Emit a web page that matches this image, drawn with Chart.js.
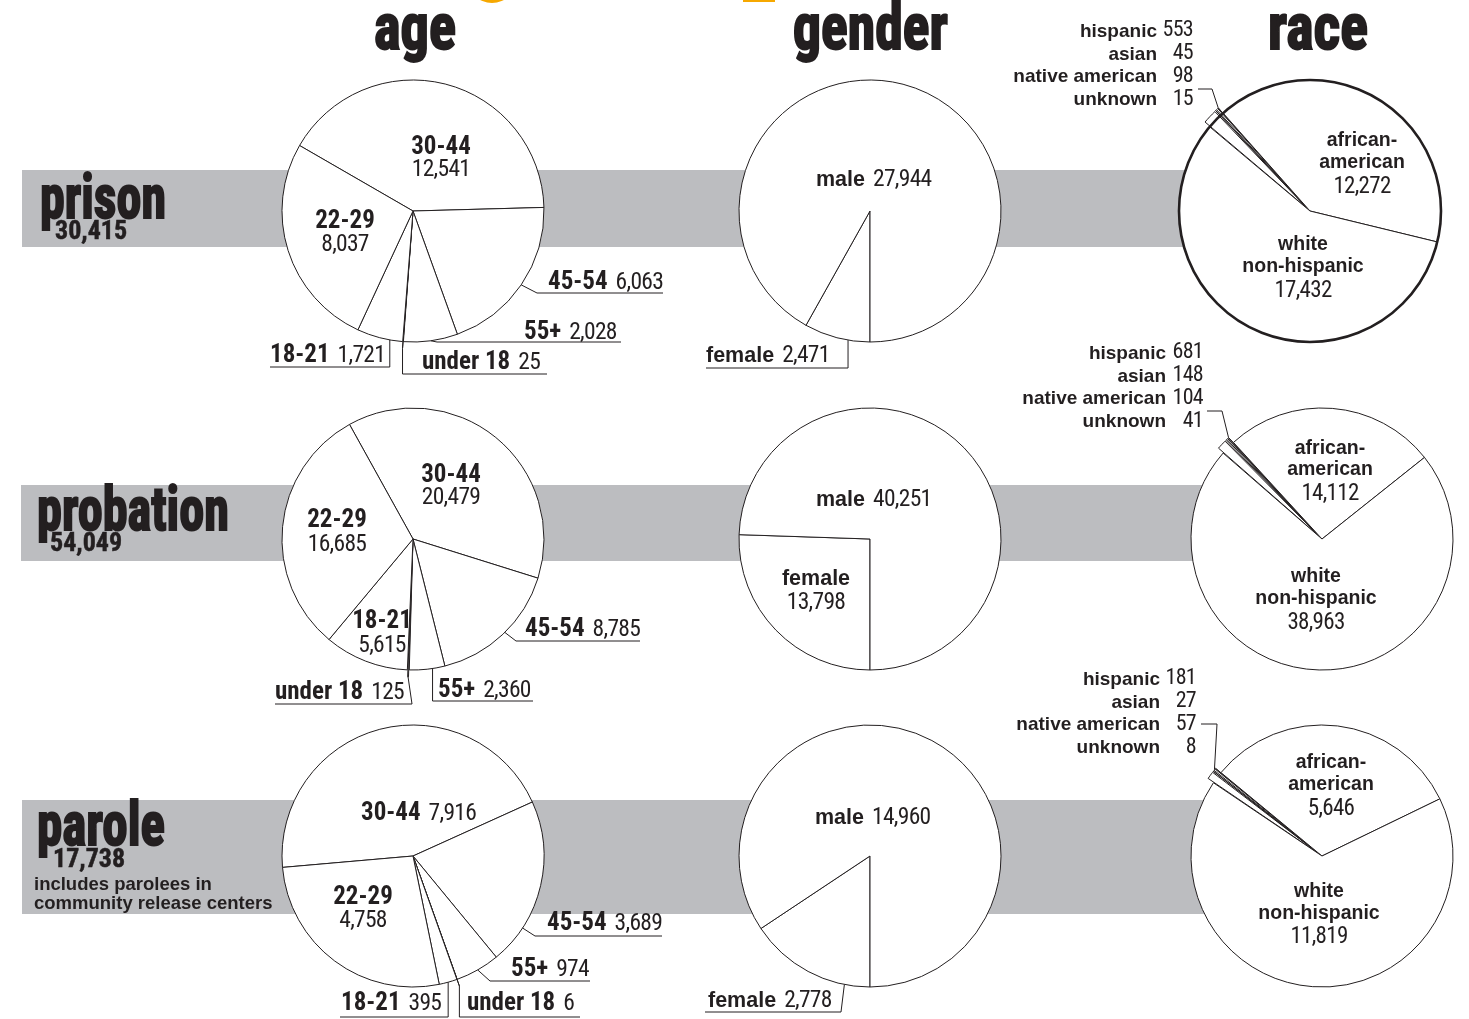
<!DOCTYPE html>
<html>
<head>
<meta charset="utf-8">
<script src="https://cdn.jsdelivr.net/npm/chart.js@4.4.1/dist/chart.umd.min.js"></script>
<style>
html, body { margin: 0; padding: 0; background: #fff; overflow: hidden; }
#page { position: relative; width: 1469px; height: 1019px; overflow: hidden; color: #231f20; }
.band { position: absolute; background: #bcbdc0; }
canvas { position: absolute; }
.t { position: absolute; white-space: nowrap; line-height: 1; z-index: 5; }
.nar { font-family: "Roboto Condensed", "DejaVu Sans Condensed", sans-serif; }
.big { font-weight: bold; -webkit-text-stroke: 2px #231f20; transform-origin: left top; }
.tot { font-weight: bold; -webkit-text-stroke: 0.5px #231f20; }
.note { font-family: "Liberation Sans", Arial, sans-serif; font-weight: bold; line-height: 19px; }
.nb { font-weight: bold; }
.sb { font-family: "Liberation Sans", Arial, sans-serif; font-weight: bold; }
.nv { font-family: "Roboto Condensed", "DejaVu Sans Condensed", sans-serif; font-weight: normal; letter-spacing: -0.7px; }
.orange { position: absolute; background: #f6a800; }
</style>
</head>
<body>
<div id="page">
  <div class="orange" style="left:467px;top:-30px;width:50px;height:33px;border-radius:0 0 25px 25px;"></div>
  <div class="orange" style="left:743px;top:0;width:32px;height:2px;"></div>
</div>
<script>
// populations
const populations = ['prison', 'probation', 'parole'];
const populationTotals = [30415, 54049, 17738];
const columns = ['age', 'gender', 'race'];

// age, clockwise from the 30-44 slice
const ageGroups = ['30-44', '45-54', '55+', 'under 18', '18-21', '22-29'];
const prisonAge = [12541, 6063, 2028, 25, 1721, 8037];
const probationAge = [20479, 8785, 2360, 125, 5615, 16685];
const paroleAge = [7916, 3689, 974, 6, 395, 4758];

// gender
const genders = ['female', 'male'];
const prisonGender = [2471, 27944];
const probationGender = [13798, 40251];
const paroleGender = [2778, 14960];

// race
const races = ['hispanic', 'asian', 'native american', 'unknown', 'african-american', 'white non-hispanic'];
const prisonRace = [553, 45, 98, 15, 12272, 17432];
const probationRace = [681, 148, 104, 41, 14112, 38963];
const paroleRace = [181, 27, 57, 8, 5646, 11819];

const page = document.getElementById('page');
const fmt = v => v.toLocaleString('en-US');
const R = 131, CW = 520, CH = 340;

// gray bands behind each row
[[22, 170, 1290, 77], [21, 485, 1300, 76], [22, 800, 1300, 114]].forEach(b => {
    const d = document.createElement('div');
    d.className = 'band';
    d.style.cssText = `left:${b[0]}px;top:${b[1]}px;width:${b[2]}px;height:${b[3]}px`;
    page.appendChild(d);
});

function txt(html, x, base, cls, size, align) {
    const d = document.createElement('div');
    d.className = 't ' + cls;
    d.innerHTML = html;
    d.style.fontSize = size + 'px';
    d.style.top = (base - size * 0.845) + 'px';
    if (align === 'right') d.style.right = (1469 - x) + 'px';
    else d.style.left = x + 'px';
    if (align === 'center') {
        d.style.transform = 'translateX(-50%)';
        d.style.textAlign = 'center';
    }
    page.appendChild(d);
    return d;
}

function fit(el, w) {
    const r = el.getBoundingClientRect().width;
    el.style.transform = `scaleX(${w / r})`;
}

// column and row titles
fit(txt(columns[0], 374, 50, 'nar big', 64), 82);
fit(txt(columns[1], 793, 50, 'nar big', 64), 155);
fit(txt(columns[2], 1268, 50, 'nar big', 64), 100);
fit(txt(populations[0], 40, 218, 'nar big', 62), 126);
fit(txt(populations[1], 37, 530, 'nar big', 62), 192);
fit(txt(populations[2], 37, 845, 'nar big', 62), 128);
txt(fmt(populationTotals[0]), 55, 239, 'nar tot', 26);
txt(fmt(populationTotals[1]), 50, 551, 'nar tot', 26);
txt(fmt(populationTotals[2]), 53, 867, 'nar tot', 26);
txt('includes parolees in<br>community release centers', 34, 889, 'note', 18.5).style.top = '874px';

const leaderPlugin = {
    id: 'leaders',
    afterDatasetsDraw(chart, args, opts) {
        const ctx = chart.ctx;
        const arcs = chart.getDatasetMeta(0).data;
        ctx.save();
        ctx.strokeStyle = '#231f20';
        if (opts.ring) {
            const a = arcs[0];
            ctx.lineWidth = opts.ring;
            ctx.beginPath();
            ctx.arc(a.x, a.y, a.outerRadius, 0, Math.PI * 2);
            ctx.stroke();
        }
        ctx.lineWidth = 1;
        (opts.leaders || []).forEach(l => {
            const a = arcs[l.i];
            const off = (a.options.offset || 0) / 4;
            const ang = a.startAngle + (a.endAngle - a.startAngle) * l.at;
            const r = a.outerRadius + off * 2;
            let px = a.x + Math.cos(ang) * r, py = a.y + Math.sin(ang) * r;
            ctx.beginPath();
            ctx.moveTo(px, py);
            l.path.forEach(p => {
                px = p[0] === null ? px : p[0] - opts.left;
                py = p[1] === null ? py : p[1] - opts.top;
                ctx.lineTo(px, py);
            });
            ctx.stroke();
        });
        ctx.restore();
    }
};

function wrapName(n) {
    if (n.indexOf(' ') > 0) return n.replace(' ', '<br>');
    if (n.indexOf('-') > 0 && n.length > 10) return n.replace('-', '-<br>');
    return n;
}

function pie(cx, cy, names, values, cfg) {
    const cv = document.createElement('canvas');
    cv.width = CW;
    cv.height = CH;
    const left = cx - CW / 2, top = cy - CH / 2;
    cv.style.left = left + 'px';
    cv.style.top = top + 'px';
    page.appendChild(cv);

    const leaders = [];
    cfg.labels.forEach(l => {
        const name = names[l.i], val = fmt(values[l.i]);
        if (l.kind === 'stack') {
            const nm = l.wrap ? wrapName(name) : name;
            const lines = nm.split('<br>').length;
            const lh = l.lh || cfg.nameSize;
            const d = txt(nm, l.x, l.y, 'nar nb ' + cfg.nameCls, cfg.nameSize, 'center');
            d.style.lineHeight = lh + 'px';
            d.style.top = (l.y - lh / 2 - cfg.nameSize * 0.342) + 'px';
            txt(val, l.x, l.y + (lines - 1) * lh + l.gap, 'nv', cfg.valSize, 'center');
        } else if (l.kind === 'inline') {
            txt(`<span>${name}</span><span class="nv" style="font-size:${cfg.valSize}px;margin-left:${cfg.gap}px">${val}</span>`,
                l.x, l.y, 'nar nb ' + cfg.nameCls, cfg.nameSize);
        }
        if (l.leader) leaders.push(Object.assign({ i: l.i }, l.leader));
    });
    if (cfg.list) {
        const ls = cfg.list;
        ls.items.forEach((i, k) => {
            txt(names[i], ls.right, ls.y + k * ls.step, 'sb', 19, 'right');
            txt(fmt(values[i]), ls.vright, ls.y + k * ls.step, 'nv', 22, 'right');
        });
        leaders.push(ls.leader);
    }

    new Chart(cv, {
        type: 'pie',
        data: {
            labels: names,
            datasets: [{
                data: values,
                backgroundColor: '#ffffff',
                borderColor: '#231f20',
                borderWidth: 1,
                offset: values.map((v, i) => (cfg.pop || []).includes(i) ? 14 : 0),
                hoverOffset: 0,
                radius: R,
                rotation: cfg.rotation
            }]
        },
        options: {
            responsive: false,
            animation: false,
            events: [],
            radius: R,
            rotation: cfg.rotation,
            plugins: {
                legend: { display: false },
                tooltip: { enabled: false },
                leaders: { left, top, leaders, ring: cfg.ring }
            }
        },
        plugins: [leaderPlugin]
    });
}

const ageText = { nameCls: '', nameSize: 25, valSize: 23.5, gap: 8 };
const genderText = { nameCls: 'sb', nameSize: 21.5, valSize: 23.5, gap: 8 };
const raceText = { nameCls: 'sb', nameSize: 19.5, valSize: 23, gap: 6 };

// prison row
pie(413, 211, ageGroups, prisonAge, Object.assign({}, ageText, {
    rotation: -60, pop: [3],
    labels: [
        { i: 0, kind: 'stack', x: 441, y: 154, gap: 23 },
        { i: 5, kind: 'stack', x: 345, y: 228, gap: 24 },
        { i: 1, kind: 'inline', x: 548, y: 289, leader: { at: 0.5, path: [[537, 293], [663, 293]] } },
        { i: 2, kind: 'inline', x: 524, y: 339, leader: { at: 0.5, path: [[437, 342], [621, 342]] } },
        { i: 3, kind: 'inline', x: 422, y: 369, leader: { at: 0.5, path: [[null, 374], [547, 374]] } },
        { i: 4, kind: 'inline', x: 270, y: 362, leader: { at: 0.28, path: [[null, 367], [270, 367]] } }
    ]
}));
pie(870, 211, genders, prisonGender, Object.assign({}, genderText, {
    rotation: 180,
    labels: [
        { i: 1, kind: 'inline', x: 816, y: 185 },
        { i: 0, kind: 'inline', x: 706, y: 361, leader: { at: 0.33, path: [[null, 368], [706, 368]] } }
    ]
}));
pie(1310, 211, races, prisonRace, Object.assign({}, raceText, {
    rotation: -50, pop: [0, 1, 2, 3], ring: 2.6,
    list: { items: [0, 1, 2, 3], right: 1157, vright: 1193, y: 37, step: 22.7,
            leader: { i: 3, at: 0.5, path: [[1212, 89], [1198, 89]] } },
    labels: [
        { i: 4, kind: 'stack', wrap: true, x: 1362, y: 146, lh: 22, gap: 25 },
        { i: 5, kind: 'stack', wrap: true, x: 1303, y: 250, lh: 22, gap: 25 }
    ]
}));

// probation row
pie(413, 539, ageGroups, probationAge, Object.assign({}, ageText, {
    rotation: -29, pop: [3],
    labels: [
        { i: 0, kind: 'stack', x: 451, y: 482, gap: 23 },
        { i: 5, kind: 'stack', x: 337, y: 527, gap: 25 },
        { i: 4, kind: 'stack', x: 382, y: 628, gap: 25 },
        { i: 1, kind: 'inline', x: 525, y: 636, leader: { at: 0.48, path: [[516, 641], [640, 641]] } },
        { i: 2, kind: 'inline', x: 438, y: 697, leader: { at: 0.35, path: [[null, 701], [533, 701]] } },
        { i: 3, kind: 'inline', x: 275, y: 699, leader: { at: 0.5, path: [[412, 704], [275, 704]] } }
    ]
}));
pie(870, 539, genders, probationGender, Object.assign({}, genderText, {
    rotation: 180,
    labels: [
        { i: 1, kind: 'inline', x: 816, y: 505 },
        { i: 0, kind: 'stack', x: 816, y: 586, gap: 24 }
    ]
}));
pie(1322, 539, races, probationRace, Object.assign({}, raceText, {
    rotation: -49, pop: [0, 1, 2, 3],
    list: { items: [0, 1, 2, 3], right: 1166, vright: 1203, y: 359, step: 22.7,
            leader: { i: 3, at: 0.5, path: [[1222, 411], [1207, 411]] } },
    labels: [
        { i: 4, kind: 'stack', wrap: true, x: 1330, y: 454, lh: 21, gap: 25 },
        { i: 5, kind: 'stack', wrap: true, x: 1316, y: 582, lh: 22, gap: 25 }
    ]
}));

// parole row
pie(413, 856, ageGroups, paroleAge, Object.assign({}, ageText, {
    rotation: -95, pop: [3],
    labels: [
        { i: 0, kind: 'inline', x: 361, y: 820 },
        { i: 5, kind: 'stack', x: 363, y: 904, gap: 24 },
        { i: 1, kind: 'inline', x: 547, y: 930, leader: { at: 0.77, path: [[535, 936], [662, 936]] } },
        { i: 2, kind: 'inline', x: 511, y: 976, leader: { at: 0.5, path: [[490, 981], [590, 981]] } },
        { i: 3, kind: 'inline', x: 467, y: 1010, leader: { at: 0.5, path: [[null, 1017], [580, 1017]] } },
        { i: 4, kind: 'inline', x: 341, y: 1010, leader: { at: 0.5, path: [[null, 1017], [340, 1017]] } }
    ]
}));
pie(870, 856, genders, paroleGender, Object.assign({}, genderText, {
    rotation: 180,
    labels: [
        { i: 1, kind: 'inline', x: 815, y: 823 },
        { i: 0, kind: 'inline', x: 708, y: 1006, leader: { at: 0.2, path: [[841, 1012], [705, 1012]] } }
    ]
}));
pie(1322, 856, races, paroleRace, Object.assign({}, raceText, {
    rotation: -56, pop: [0, 1, 2, 3],
    list: { items: [0, 1, 2, 3], right: 1160, vright: 1196, y: 685, step: 22.7,
            leader: { i: 2, at: 0.5, path: [[1217, 724], [1201, 724]] } },
    labels: [
        { i: 4, kind: 'stack', wrap: true, x: 1331, y: 768, lh: 22, gap: 25 },
        { i: 5, kind: 'stack', wrap: true, x: 1319, y: 897, lh: 22, gap: 24 }
    ]
}));
</script>
</body>
</html>
